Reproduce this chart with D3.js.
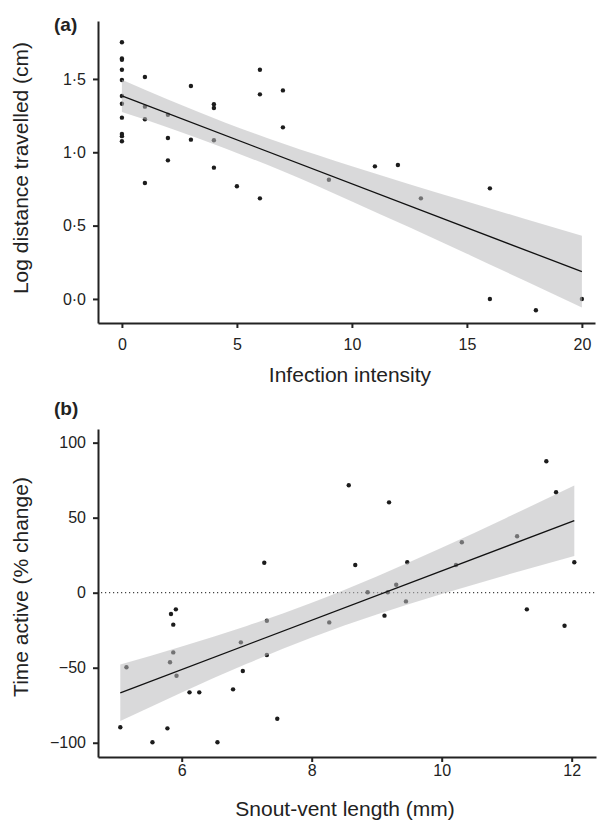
<!DOCTYPE html>
<html>
<head>
<meta charset="utf-8">
<script src="https://cdn.jsdelivr.net/npm/d3@7"></script>
<style>
  html, body { margin: 0; padding: 0; background: #fff; }
  svg { display: block; }
  text { font-family: "Liberation Sans", Arial, Helvetica, sans-serif; fill: #222; }
</style>
</head>
<body>
<svg id="chart" width="600" height="820"></svg>
<script>
// ---------- Panel (a) data ----------
const infectionIntensity = [0,0,0,0,0,0,0,0,0,0,0, 1,1,1,1, 2,2,2, 3,3, 4,4,4,4, 5, 6,6,6, 7,7, 9, 11, 12, 13, 16,16, 18, 20];
const logDistance = [1.75,1.64,1.63,1.563,1.493,1.384,1.331,1.236,1.125,1.11,1.075,
  1.513,1.311,1.225,0.791, 1.256,1.097,0.945, 1.452,1.086, 1.327,1.302,1.082,0.895,
  0.768, 1.563,1.395,0.686, 1.422,1.170, 0.813, 0.904, 0.913, 0.686, 0.754,0.0, -0.077, 0.0];
const fitAx = [0, 20];
const fitAy = [1.384, 0.186];
const bandAx = [0, 2, 4.5, 7, 10, 12.5, 15, 17.5, 20];
const bandAupper = [1.494, 1.359, 1.202, 1.060, 0.905, 0.782, 0.664, 0.547, 0.431];
const bandAlower = [1.274, 1.169, 1.026, 0.870, 0.665, 0.488, 0.308, 0.125, -0.059];
const xTicksA = [0, 5, 10, 15, 20];
const xTickLabelsA = ["0", "5", "10", "15", "20"];
const yTicksA = [0, 0.5, 1.0, 1.5];
const yTickLabelsA = ["0\u00B70", "0\u00B75", "1\u00B70", "1\u00B75"];

// ---------- Panel (b) data ----------
const svl = [5.055,5.15,5.55,5.78,5.82,5.835,5.87,5.87,5.91,5.92,6.12,6.27,6.55,6.79,6.91,6.94,
  7.27,7.31,7.31,7.47,8.27,8.57,8.67,8.86,9.12,9.17,9.19,9.30,9.45,9.47,10.22,10.31,11.16,11.31,11.61,11.76,11.89,12.04];
const timeActive = [-89.7,-49.7,-99.7,-90.4,-46.4,-14.2,-21.3,-39.8,-11.1,-55.3,-66.4,-66.4,-99.7,-64.4,-33.1,-52.2,
  20.0,-18.7,-41.5,-84.0,-19.8,71.6,18.5,0.3,-15.3,0.3,60.2,5.3,-5.8,20.3,18.5,33.6,37.6,-11.1,87.6,66.9,-22,20.3];
const fitBx = [5.055, 12.04];
const fitBy = [-66.7, 48.0];
const bandBx = [5.055, 6, 7, 8, 9, 10, 11, 12.04];
const bandBupper = [-47.9, -35.9, -22.2, -6.7, 10.8, 29.9, 50.0, 71.5];
const bandBlower = [-85.5, -66.5, -47.4, -29.9, -14.6, -0.9, 11.8, 24.5];
const xTicksB = [6, 8, 10, 12];
const xTickLabelsB = ["6", "8", "10", "12"];
const yTicksB = [-100, -50, 0, 50, 100];
const yTickLabelsB = ["\u2212100", "\u221250", "0", "50", "100"];

const svg = d3.select("#chart");
const ink = "#222";

function panel(cfg) {
  const g = svg.append("g");
  const x = d3.scaleLinear().domain(cfg.xDomain).range(cfg.xRange);
  const y = d3.scaleLinear().domain(cfg.yDomain).range(cfg.yRange);

  if (cfg.zeroLine) {
    g.append("line")
      .attr("x1", cfg.xRange[0] + 3).attr("x2", cfg.xRange[1])
      .attr("y1", y(0)).attr("y2", y(0))
      .attr("stroke", "#444").attr("stroke-width", 1.2)
      .attr("stroke-dasharray", "1.2,2.8");
  }

  // points
  g.append("g").selectAll("circle")
    .data(cfg.xs.map((v, i) => [v, cfg.ys[i]]))
    .join("circle")
    .attr("cx", d => x(d[0])).attr("cy", d => y(d[1]))
    .attr("r", 2.2).attr("fill", "#1c1c1c");

  // CI band
  const area = d3.area()
    .x((d, i) => x(cfg.bandX[i]))
    .y0((d, i) => y(cfg.bandLo[i]))
    .y1((d, i) => y(cfg.bandHi[i]))
    .curve(d3.curveMonotoneX);
  g.append("path").datum(cfg.bandX).attr("d", area)
    .attr("fill", "rgb(186,186,187)").attr("fill-opacity", 0.55);

  // fit line
  const line = d3.line().x((d, i) => x(cfg.fitX[i])).y((d, i) => y(cfg.fitY[i]));
  g.append("path").datum(cfg.fitX).attr("d", line)
    .attr("fill", "none").attr("stroke", "#111").attr("stroke-width", 1.3);

  // axes
  const xAxis = d3.axisBottom(x).tickValues(cfg.xTicks)
    .tickFormat((d, i) => cfg.xTickLabels[i]).tickSizeInner(5).tickSizeOuter(0).tickPadding(cfg.xPad);
  const xa = g.append("g").attr("transform", `translate(0,${cfg.yRange[0]})`).call(xAxis);
  const yAxis = d3.axisLeft(y).tickValues(cfg.yTicks)
    .tickFormat((d, i) => cfg.yTickLabels[i]).tickSizeInner(5).tickSizeOuter(0).tickPadding(7);
  const ya = g.append("g").attr("transform", `translate(${cfg.xRange[0]},0)`).call(yAxis);
  [xa, ya].forEach(a => {
    a.select(".domain").attr("stroke", ink).attr("stroke-width", 2);
    a.selectAll(".tick line").attr("stroke", ink).attr("stroke-width", 2);
    a.selectAll(".tick text").attr("font-size", 16).attr("fill", ink)
      .style("font-family", "'Liberation Sans', Arial, sans-serif");
  });

  // titles
  svg.append("text").attr("x", cfg.xTitlePos[0]).attr("y", cfg.xTitlePos[1])
    .attr("text-anchor", "middle").attr("font-size", 21).text(cfg.xTitle);
  svg.append("text").attr("transform", `translate(${cfg.yTitlePos[0]},${cfg.yTitlePos[1]}) rotate(-90)`)
    .attr("text-anchor", "middle").attr("font-size", 21).text(cfg.yTitle);
  svg.append("text").attr("x", cfg.labelPos[0]).attr("y", cfg.labelPos[1])
    .attr("font-size", 19).attr("font-weight", "bold").text(cfg.label);
}

panel({
  xs: infectionIntensity, ys: logDistance,
  xDomain: [-1.04, 20.57], xRange: [98, 595],
  yDomain: [-0.164, 1.895], yRange: [323, 21],
  bandX: bandAx, bandHi: bandAupper, bandLo: bandAlower,
  fitX: fitAx, fitY: fitAy,
  xTicks: xTicksA, xTickLabels: xTickLabelsA, xPad: 11,
  yTicks: yTicksA, yTickLabels: yTickLabelsA,
  xTitle: "Infection intensity", xTitlePos: [350, 382],
  yTitle: "Log distance travelled (cm)", yTitlePos: [28, 168],
  label: "(a)", labelPos: [54, 31],
  zeroLine: false
});

panel({
  xs: svl, ys: timeActive,
  xDomain: [4.712, 12.374], xRange: [98, 596],
  yDomain: [-109.5, 109.1], yRange: [757, 429],
  bandX: bandBx, bandHi: bandBupper, bandLo: bandBlower,
  fitX: fitBx, fitY: fitBy,
  xTicks: xTicksB, xTickLabels: xTickLabelsB, xPad: 3,
  yTicks: yTicksB, yTickLabels: yTickLabelsB,
  xTitle: "Snout-vent length (mm)", xTitlePos: [345, 816],
  yTitle: "Time active (% change)", yTitlePos: [28, 587],
  label: "(b)", labelPos: [54, 415],
  zeroLine: true
});
</script>
</body>
</html>
